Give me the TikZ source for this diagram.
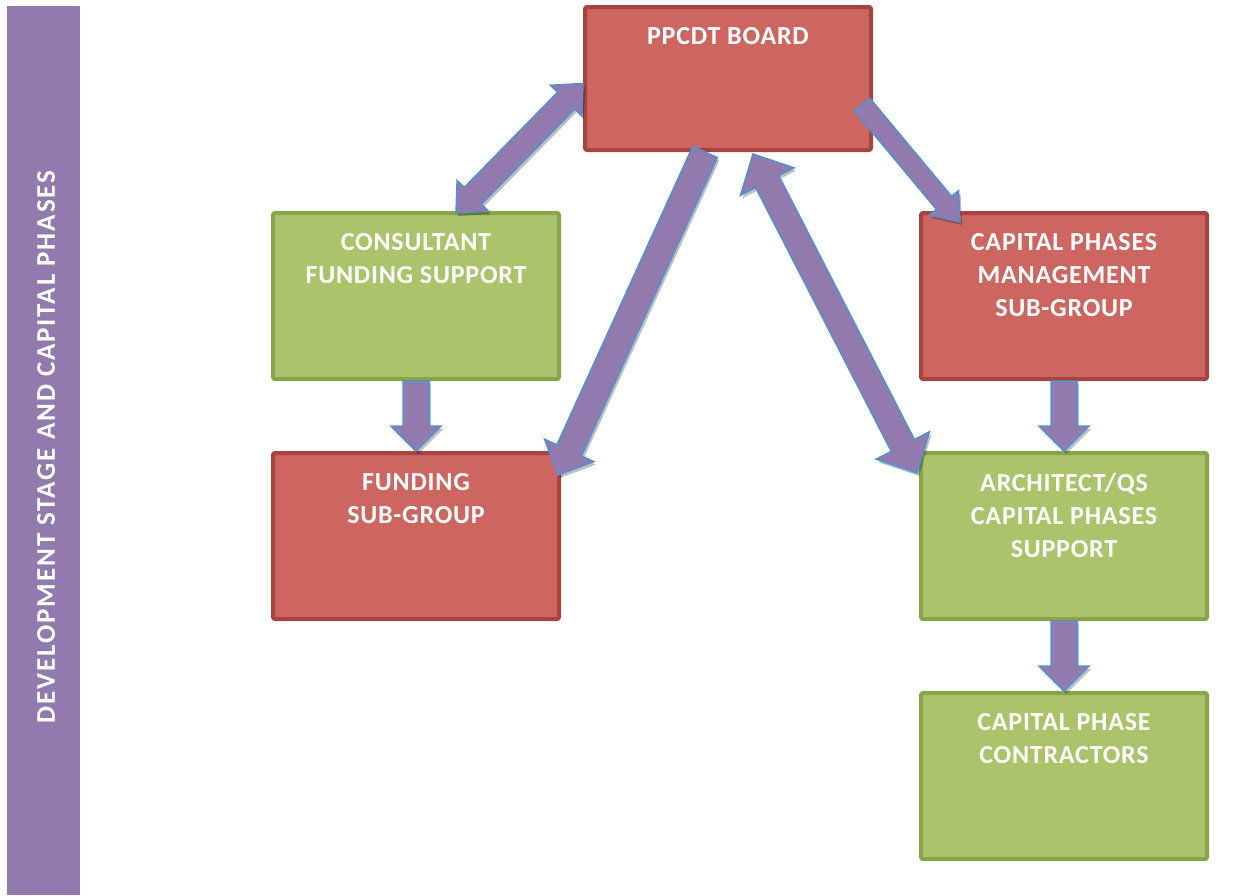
\documentclass[tikz,border=0pt]{standalone}
\usepackage{fontspec}
\setmainfont{Carlito}
\usetikzlibrary{calc,shadows}
\definecolor{barpurple}{RGB}{146,122,175}
\definecolor{boxred}{RGB}{205,102,96}
\definecolor{edgered}{RGB}{168,68,64}
\definecolor{boxgreen}{RGB}{171,196,108}
\definecolor{edgegreen}{RGB}{137,163,74}
\definecolor{arrowedge}{RGB}{84,144,206}

\tikzset{
  redbox/.style={draw=edgered, fill=boxred, line width=4pt, rounded corners=2pt,
    minimum width=286pt, minimum height=166pt, inner sep=0pt},
  greenbox/.style={redbox, draw=edgegreen, fill=boxgreen},
  boxlabel/.style={anchor=north, yshift=-22pt, inner sep=0pt, text=white, align=center,
    font=\fontsize{26}{33}\selectfont\bfseries\addfontfeatures{LetterSpace=3}},
  blockarrow/.style={draw=arrowedge, fill=barpurple, line width=1.5pt, line join=miter,
    drop shadow={shadow xshift=2pt, shadow yshift=-3pt, opacity=0.25, fill=black}}
}

% single block arrow: from, to, shaft half width, head half width, head length
\newcommand{\blkarrow}[5]{%
  \path (#1) coordinate (ba-s) (#2) coordinate (ba-e);
  \coordinate (ba-h) at ($(ba-e)!#5!(ba-s)$);
  \draw[blockarrow] ($(ba-s)!#3!90:(ba-e)$) -- ($(ba-h)!#3!90:(ba-e)$) -- ($(ba-h)!#4!90:(ba-e)$)
    -- (ba-e) -- ($(ba-h)!#4!-90:(ba-e)$) -- ($(ba-h)!#3!-90:(ba-e)$) -- ($(ba-s)!#3!-90:(ba-e)$) -- cycle;}
% double block arrow, same arguments
\newcommand{\dblarrow}[5]{%
  \path (#1) coordinate (ba-s) (#2) coordinate (ba-e);
  \coordinate (ba-h) at ($(ba-e)!#5!(ba-s)$);
  \coordinate (ba-g) at ($(ba-s)!#5!(ba-e)$);
  \draw[blockarrow] (ba-s) -- ($(ba-g)!#4!90:(ba-e)$) -- ($(ba-g)!#3!90:(ba-e)$) -- ($(ba-h)!#3!90:(ba-e)$)
    -- ($(ba-h)!#4!90:(ba-e)$) -- (ba-e) -- ($(ba-h)!#4!-90:(ba-e)$) -- ($(ba-h)!#3!-90:(ba-e)$)
    -- ($(ba-g)!#3!-90:(ba-e)$) -- ($(ba-g)!#4!-90:(ba-e)$) -- cycle;}

\begin{document}
\begin{tikzpicture}[x=1pt, y=-1pt, line cap=round, line join=round]
\useasboundingbox (0,0) rectangle (1258,895);

% side bar
\fill[barpurple] (7,6) rectangle (80,895);
\node[rotate=90, text=white, font=\fontsize{27}{30}\selectfont\bfseries\addfontfeatures{LetterSpace=7}] (stage) at (46,447)
  {DEVELOPMENT STAGE AND CAPITAL PHASES};

% boxes
\node[redbox, minimum height=143pt] (board) at (728,78.5) {};
\node[greenbox] (consult) at (416,296) {};
\node[redbox] (funding) at (416,536) {};
\node[redbox] (capmgmt) at (1064,296) {};
\node[greenbox] (arch) at (1064,536) {};
\node[greenbox] (contr) at (1064,776) {};

\node[boxlabel] (boardtxt) at (board.north) {PPCDT BOARD};
\node[boxlabel] (consulttxt) at (consult.north) {CONSULTANT\\FUNDING SUPPORT};
\node[boxlabel] (fundingtxt) at (funding.north) {FUNDING\\SUB-GROUP};
\node[boxlabel] (capmgmttxt) at (capmgmt.north) {CAPITAL PHASES\\MANAGEMENT\\SUB-GROUP};
\node[boxlabel] (archtxt) at (arch.north) {ARCHITECT/QS\\CAPITAL PHASES\\SUPPORT};
\node[boxlabel] (contrtxt) at (contr.north) {CAPITAL PHASE\\CONTRACTORS};

% arrow ends
\coordinate (c1) at ($(consult.north)+(40,2)$);
\coordinate (b1) at ($(board.west)+(0,5)$);
\coordinate (b2) at ($(board.south)+(-23,0)$);
\coordinate (f1) at ($(funding.north east)+(-3,24)$);
\coordinate (b3) at ($(board.south)+(25,2)$);
\coordinate (a1) at ($(arch.north west)+(-2,22)$);
\coordinate (b4) at ($(board.east)+(-11,26)$);
\coordinate (m1) at ($(capmgmt.north west)+(41,11)$);

% arrows
\dblarrow{c1}{b1}{12pt}{22pt}{24pt}
\blkarrow{b2}{f1}{13.5pt}{27pt}{27pt}
\dblarrow{b3}{a1}{13pt}{30pt}{31pt}
\blkarrow{b4}{m1}{10pt}{19pt}{25pt}
\blkarrow{consult.south}{funding.north}{13pt}{25pt}{25pt}
\blkarrow{capmgmt.south}{arch.north}{13pt}{25pt}{25pt}
\blkarrow{arch.south}{contr.north}{13pt}{25pt}{25pt}
\end{tikzpicture}
\end{document}
